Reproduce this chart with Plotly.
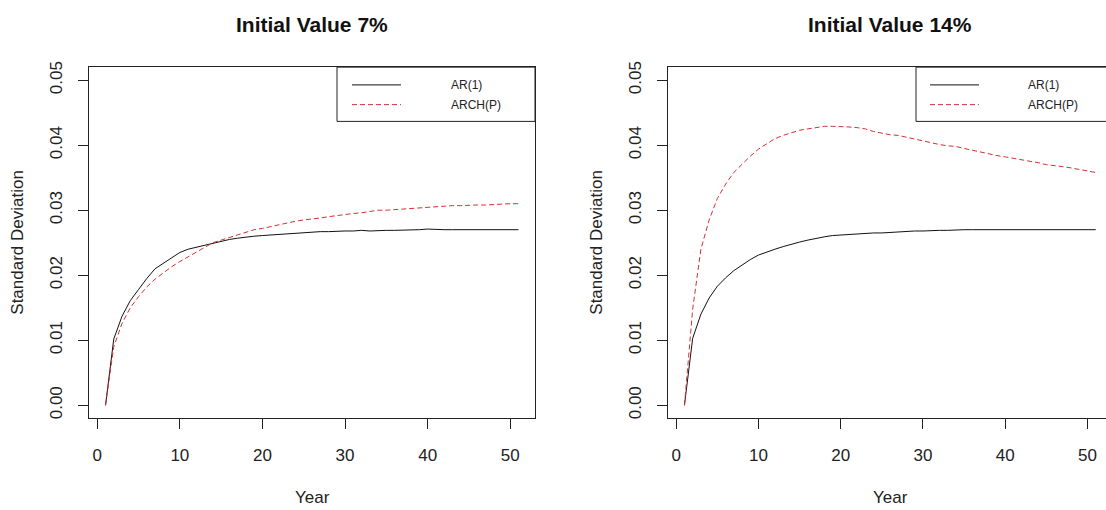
import plotly.graph_objects as go

years = list(range(1, 52))

ar1_7 = [0.0000, 0.0102, 0.0137, 0.0161, 0.0178, 0.0195, 0.0210, 0.0218, 0.0227, 0.0235,
         0.0240, 0.0243, 0.0247, 0.0250, 0.0253, 0.0255, 0.0257, 0.0259, 0.0260, 0.0261,
         0.0262, 0.0263, 0.0264, 0.0265, 0.0266, 0.0266, 0.0267, 0.0267, 0.0268, 0.0268,
         0.0268, 0.0269, 0.0268, 0.0269, 0.0269, 0.0269, 0.0269, 0.0270, 0.0270, 0.0271,
         0.0270, 0.0270, 0.0270, 0.0270, 0.0270, 0.0270, 0.0270, 0.0270, 0.0270, 0.0270,
         0.0270]
arch_7 = [0.0000, 0.0090, 0.0126, 0.0150, 0.0167, 0.0182, 0.0194, 0.0204, 0.0213, 0.0221,
          0.0228, 0.0235, 0.0243, 0.0250, 0.0254, 0.0258, 0.0262, 0.0266, 0.0270, 0.0272,
          0.0275, 0.0278, 0.0280, 0.0283, 0.0285, 0.0286, 0.0288, 0.0290, 0.0292, 0.0294,
          0.0295, 0.0296, 0.0298, 0.0300, 0.0300, 0.0301, 0.0302, 0.0303, 0.0304, 0.0305,
          0.0306, 0.0307, 0.0307, 0.0307, 0.0308, 0.0308, 0.0308, 0.0309, 0.0309, 0.0310,
          0.0310]
ar1_14 = [0.0000, 0.0103, 0.0140, 0.0165, 0.0183, 0.0196, 0.0207, 0.0216, 0.0224, 0.0231,
          0.0236, 0.0240, 0.0244, 0.0248, 0.0251, 0.0254, 0.0257, 0.0259, 0.0261, 0.0262,
          0.0263, 0.0264, 0.0264, 0.0265, 0.0265, 0.0266, 0.0267, 0.0267, 0.0268, 0.0268,
          0.0269, 0.0269, 0.0269, 0.0270, 0.0270, 0.0270, 0.0270, 0.0270, 0.0270, 0.0270,
          0.0270, 0.0270, 0.0270, 0.0270, 0.0270, 0.0270, 0.0270, 0.0270, 0.0270, 0.0270,
          0.0270]
arch_14 = [0.0000, 0.0148, 0.0240, 0.0285, 0.0318, 0.0340, 0.0358, 0.0371, 0.0383, 0.0394,
           0.0402, 0.0410, 0.0415, 0.0419, 0.0423, 0.0425, 0.0427, 0.0429, 0.0429, 0.0429,
           0.0428, 0.0427, 0.0425, 0.0421, 0.0418, 0.0416, 0.0415, 0.0412, 0.0409, 0.0406,
           0.0404, 0.0401, 0.0399, 0.0398, 0.0395, 0.0392, 0.0390, 0.0387, 0.0384, 0.0382,
           0.0380, 0.0378, 0.0376, 0.0373, 0.0370, 0.0369, 0.0367, 0.0365, 0.0363, 0.0360,
           0.0358]

titles = ["Initial Value 7%", "Initial Value 14%"]
x_ticks = [0, 10, 20, 30, 40, 50]
y_ticks = [0.00, 0.01, 0.02, 0.03, 0.04, 0.05]
y_tick_text = ["0.00", "0.01", "0.02", "0.03", "0.04", "0.05"]
legend_names = ["AR(1)", "ARCH(P)"]

W, H = 1106, 510
FONT = "Liberation Sans, Arial, sans-serif"
BLACK = "#111111"
RED = "#d03030"
AXC = "#222222"

def px(x):
    return x / W

def py(y):
    return (H - y) / H

fig = go.Figure()
fig.add_trace(go.Scatter(x=years, y=ar1_7, mode="lines", line=dict(color=BLACK, width=1),
                         xaxis="x", yaxis="y", name=legend_names[0]))
fig.add_trace(go.Scatter(x=years, y=arch_7, mode="lines", line=dict(color=RED, width=1, dash="5px,3px"),
                         xaxis="x", yaxis="y", name=legend_names[1]))
fig.add_trace(go.Scatter(x=years, y=ar1_14, mode="lines", line=dict(color=BLACK, width=1),
                         xaxis="x2", yaxis="y2", name=legend_names[0]))
fig.add_trace(go.Scatter(x=years, y=arch_14, mode="lines", line=dict(color=RED, width=1, dash="5px,3px"),
                         xaxis="x2", yaxis="y2", name=legend_names[1]))

ydom = [py(418), py(62)]
common_x = dict(tickmode="array", tickvals=x_ticks, ticks="outside", ticklen=10, tickwidth=1,
                tickcolor=AXC, showline=True, linecolor=AXC, linewidth=1, showgrid=False,
                zeroline=False, tickfont=dict(family=FONT, size=17, color="#222"),
                ticklabelstandoff=11)
common_y = dict(tickmode="array", tickvals=y_ticks, ticktext=y_tick_text, ticks="outside",
                ticklen=10, tickwidth=1, tickcolor=AXC, showline=True, linecolor=AXC, linewidth=1,
                showgrid=False, zeroline=False, range=[-0.002, 0.052], tickangle=-90,
                tickfont=dict(family=FONT, size=17, color="#222"), domain=ydom,
                ticklabelstandoff=9)

fig.update_layout(
    width=W, height=H, autosize=False,
    margin=dict(l=0, r=0, t=0, b=0, pad=0),
    paper_bgcolor="white", plot_bgcolor="white",
    showlegend=False,
    xaxis=dict(common_x, domain=[px(89), px(535)], range=[-1, 53], mirror=True, anchor="y"),
    yaxis=dict(common_y, mirror=True, anchor="x"),
    xaxis2=dict(common_x, domain=[px(668), 1.0], range=[-1, 52.25], mirror=True, anchor="y2"),
    yaxis2=dict(common_y, mirror=False, anchor="x2"),
)

annotations = []
shapes = []
panels = [
    dict(center=312, ytitle_x=18, legend_x0=337, legend_x1=535, line_x0=352, line_x1=401, text_x=449),
    dict(center=890, ytitle_x=597, legend_x0=916, legend_x1=1115, line_x0=930, line_x1=979, text_x=1026),
]
for i, p in enumerate(panels):
    annotations.append(dict(text="<b>%s</b>" % titles[i], x=px(p["center"]), y=py(19), xref="paper",
                            yref="paper", xanchor="center", yanchor="middle", showarrow=False,
                            font=dict(family=FONT, size=21, color="#111")))
    annotations.append(dict(text="Year", x=px(p["center"]), y=py(498), xref="paper", yref="paper",
                            xanchor="center", yanchor="middle", showarrow=False,
                            font=dict(family=FONT, size=17, color="#222")))
    annotations.append(dict(text="Standard Deviation", x=px(p["ytitle_x"]), y=py(240), xref="paper",
                            yref="paper", xanchor="center", yanchor="middle", showarrow=False,
                            textangle=-90, font=dict(family=FONT, size=17, color="#222")))
    shapes.append(dict(type="rect", xref="paper", yref="paper", x0=px(p["legend_x0"]), x1=px(p["legend_x1"]),
                       y0=py(117), y1=py(62), line=dict(color=AXC, width=1), fillcolor="white"))
    shapes.append(dict(type="line", xref="paper", yref="paper", x0=px(p["line_x0"]), x1=px(p["line_x1"]),
                       y0=py(80), y1=py(80), line=dict(color=BLACK, width=1)))
    shapes.append(dict(type="line", xref="paper", yref="paper", x0=px(p["line_x0"]), x1=px(p["line_x1"]),
                       y0=py(100), y1=py(100), line=dict(color=RED, width=1, dash="5px,3px")))
    for j, name in enumerate(legend_names):
        annotations.append(dict(text=name, x=px(p["text_x"]), y=py(80 + 20 * j), xref="paper", yref="paper",
                                xanchor="left", yanchor="middle", showarrow=False,
                                font=dict(family=FONT, size=12, color="#222")))

fig.update_layout(annotations=annotations, shapes=shapes)
fig.write_html("out.html")
